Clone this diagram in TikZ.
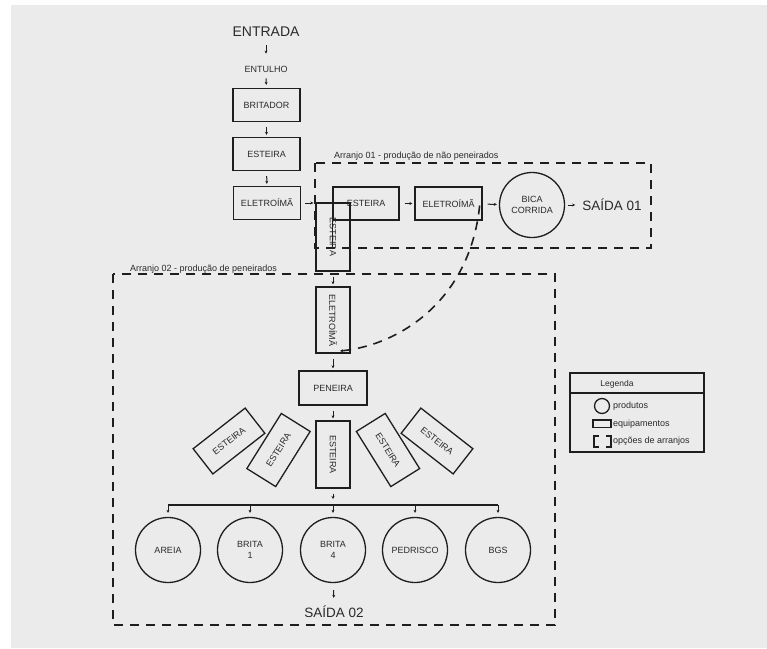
\documentclass[tikz,border=0pt]{standalone}
\usepackage{fontspec}
\setmainfont{Liberation Sans}
\usetikzlibrary{arrows.meta,calc}
\definecolor{bg}{HTML}{EBEBEB}
\definecolor{ink}{HTML}{1E1E1E}
\definecolor{txt}{HTML}{2A2A2A}
\begin{document}
\begin{tikzpicture}[x=1pt,y=-1pt,
  box/.style={draw=ink, line width=1.3pt, minimum width=67pt, minimum height=33pt, inner sep=0pt, font=\fontsize{9}{10}\selectfont, text=txt},
  prod/.style={circle, draw=ink, line width=1.3pt, minimum size=65pt, inner sep=0pt, align=center, font=\fontsize{9}{11}\selectfont, text=txt},
  arr/.style={draw=ink, line width=1pt, -{Stealth[length=3pt,width=3pt]}, shorten <=5pt, shorten >=2pt},
  grp/.style={draw=ink, line width=1.6pt, dash pattern=on 9pt off 7pt},
  lbl/.style={font=\fontsize{9}{10}\selectfont, text=txt, inner sep=0pt},
  big/.style={font=\fontsize{14}{16}\selectfont, text=txt, inner sep=0pt}]
\useasboundingbox (0,0) rectangle (767,648);
\fill[bg] (11,5) rectangle (767,648);

% main line
\node[big] (entrada) at (266,32) {ENTRADA};
\node[lbl] (entulho) at (266,69) {ENTULHO};
\node[box] (brit) at (266.5,105) {BRITADOR};
\node[box] (est1) at (266.5,154) {ESTEIRA};
\node[box] (el1) at (267,203) {ELETROÍMÃ};
\draw[arr, shorten <=8pt, shorten >=12pt] (entrada) -- (entulho);
\draw[arr, shorten <=6pt, shorten >=3pt] (entulho) -- (brit);
\draw[arr] (brit) -- (est1);
\draw[arr] (est1) -- (el1);

% Arranjo 01
\draw[grp] (315,163) rectangle (651,248);
\node[lbl, anchor=west] (a1lbl) at (334,156) {Arranjo 01 - produção de não peneirados};
\node[box, minimum width=66pt] (est2) at (366,203.5) {ESTEIRA};
\node[box] (el2) at (448.5,203.5) {ELETROÍMÃ};
\node[prod] (bica) at (532,205) {BICA\\CORRIDA};
\node[big, font=\fontsize{13.5}{15}\selectfont] (s1) at (612,205) {SAÍDA 01};
\node[box, rotate=-90, minimum width=68pt, minimum height=34pt] (est3) at (333,237) {ESTEIRA};
\draw[ink, line width=1.3pt] (est2.south west) -- ++(0,28);
\draw[arr, shorten <=4pt] (el1.east) -- (el1.east -| est3.south);
\draw[arr] (est2) -- (el2);
\draw[arr] (el2) -- (bica);
\draw[arr, shorten <=3pt, shorten >=7pt] (bica) -- (s1);

% Arranjo 02
\draw[grp] (113,274) rectangle (555,625);
\node[lbl, anchor=west] (a2lbl) at (130,269) {Arranjo 02 - produção de peneirados};
\node[box, rotate=-90, minimum width=66pt, minimum height=34pt] (el3) at (333,320) {ELETROÍMÃ};
\node[box, minimum width=68pt, minimum height=34pt] (pen) at (333,388) {PENEIRA};
\draw[arr] (est3.east) -- (el3.west);
\draw[arr] (el3.east) -- (pen.north);
\draw[grp, -{Stealth[length=3pt,width=3pt]}] ($(el2.east)+(-3,2)$) .. controls (470,300) and (400,345) .. ($(el3.center)+(7,31)$);

\node[box, rotate=38, minimum width=66pt, minimum height=32pt] (fl1) at (229,441) {ESTEIRA};
\node[box, rotate=58, minimum width=65pt, minimum height=34pt] (fl2) at (278.5,450) {ESTEIRA};
\node[box, rotate=-90, minimum width=67pt, minimum height=34pt] (fc) at (333,454.5) {ESTEIRA};
\node[box, rotate=-58, minimum width=65pt, minimum height=34pt] (fr2) at (388,450) {ESTEIRA};
\node[box, rotate=-38, minimum width=66pt, minimum height=32pt] (fr1) at (437,441) {ESTEIRA};
\draw[arr] (pen.south) -- (fc.west);

\node[prod] (areia) at (168,550) {AREIA};
\node[prod] (b1) at (250,550) {BRITA\\1};
\node[prod] (b4) at (333,550) {BRITA\\4};
\node[prod] (ped) at (415,550) {PEDRISCO};
\node[prod] (bgs) at (498,550) {BGS};
\coordinate (bus) at (333,505);
\draw[arr, shorten >=6pt] (fc.east) -- (bus);
\draw[ink, line width=1.3pt] (areia.north |- bus) -- (bgs.north |- bus);
\foreach \c in {areia,b1,b4,ped,bgs}
  \draw[arr, shorten <=0pt, shorten >=4pt] (\c.north |- bus) -- (\c.north);
\node[big, font=\fontsize{13.5}{15}\selectfont] (s2) at (334,612) {SAÍDA 02};
\draw[arr, shorten <=7pt, shorten >=8pt] (b4) -- (s2);

% Legend
\node[draw=ink, line width=1.3pt, minimum width=134pt, minimum height=79pt, inner sep=0pt] (leg) at (637,412.5) {};
\draw[ink, line width=1.3pt] (570,393) -- (704,393);
\node[lbl, font=\fontsize{8.5}{10}\selectfont] (legt) at (617,384) {Legenda};
\draw[ink, line width=1.3pt] (602,406) circle (7.5);
\node[lbl, anchor=west] (lp) at (613,406) {produtos};
\draw[ink, line width=1.2pt] (593,420) rectangle (611,427.5);
\node[lbl, anchor=west] (le) at (613,424) {equipamentos};
\draw[ink, line width=1.8pt] (599,436) -- (594,436) -- (594,447) -- (599,447);
\draw[ink, line width=1.8pt] (606,436) -- (611,436) -- (611,447) -- (606,447);
\node[lbl, anchor=west] (lo) at (613,441) {opções de arranjos};
\end{tikzpicture}
\end{document}
